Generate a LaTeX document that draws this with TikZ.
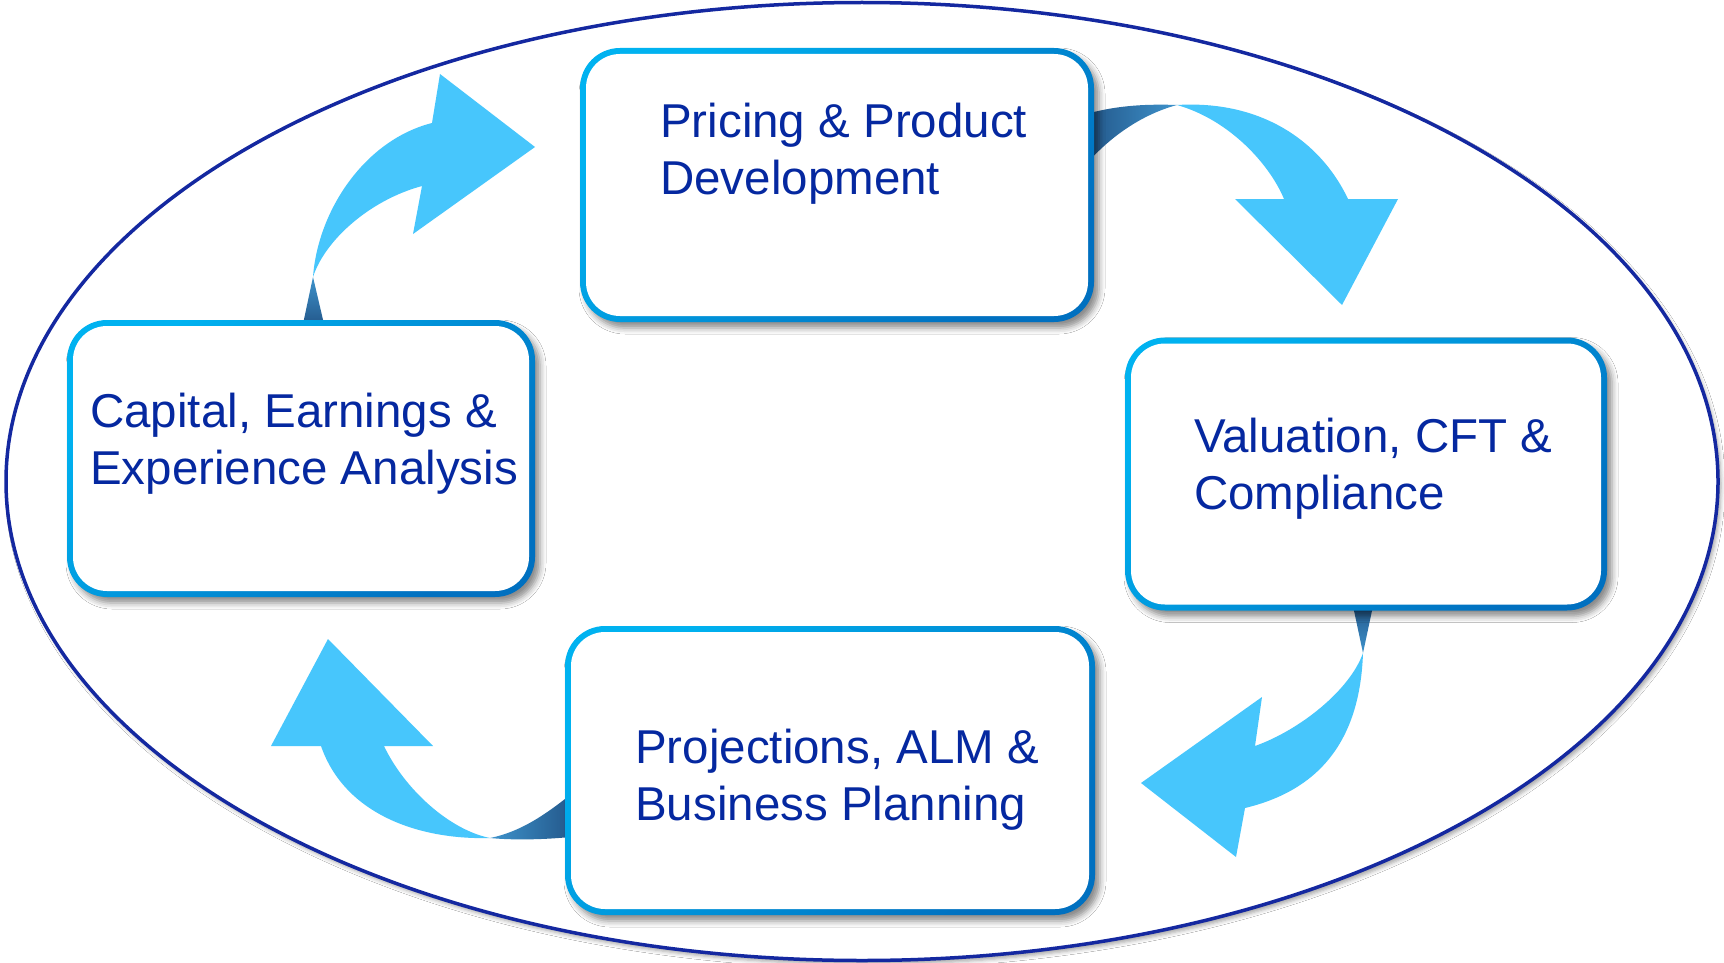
\documentclass[tikz,border=0pt]{standalone}
\usepackage{fontspec}
\setmainfont{Liberation Sans}
\usetikzlibrary{shadows.blur}
\definecolor{navy}{HTML}{1428A0}
\definecolor{txtblue}{HTML}{0528A0}
\definecolor{frameA}{HTML}{00B2F0}
\definecolor{frameB}{HTML}{0070C0}
\definecolor{arrowlight}{HTML}{47C6FC}
\definecolor{twistA}{HTML}{24598C}
\definecolor{twistB}{HTML}{3E93CC}
\begin{document}
\begin{tikzpicture}[x=1pt,y=-1pt,
  boxframe/.style={rectangle, rounded corners=40pt, inner sep=0pt, outer sep=0pt,
    top color=frameA, bottom color=frameB, shading angle=45,
    blur shadow={shadow xshift=5pt, shadow yshift=-6pt, shadow blur radius=6pt, shadow opacity=45}},
  boxinner/.style={rectangle, rounded corners=34pt, fill=white, inner sep=0pt, outer sep=0pt},
  boxtext/.style={anchor=base west, inner sep=0pt, text=txtblue, font=\fontsize{47.5}{57}\selectfont},
  arrowfill/.style={fill=arrowlight}
]
\useasboundingbox (0,0) rectangle (1724,963);
\fill[white] (0,0) rectangle (1724,963);

% outer ellipse
\path[draw=navy, line width=3.5pt, fill=white,
  blur shadow={shadow xshift=3pt, shadow yshift=-4pt, shadow blur radius=4pt, shadow opacity=35}]
  (862,481.5) ellipse [x radius=856, y radius=479];

% arrow 1: Capital -> Pricing
\coordinate (a1t) at (313,277);
\fill[arrowfill] (a1t) .. controls (318,210) and (365,140) .. (432,123) -- (440,74) -- (535,147) -- (413,234) -- (422,186) .. controls (370,200) and (325,240) .. (a1t) -- cycle;
\shade[top color=twistB, bottom color=twistA] (303,324) -- (a1t) -- (324,324) -- cycle;

% arrow 2: Pricing -> Valuation
\coordinate (a2t) at (1177,105);
\shade[left color=twistA, right color=twistB] (1090,113) .. controls (1120,105) and (1150,104) .. (a2t) .. controls (1140,115) and (1110,138) .. (1090,160) -- cycle;
\fill[arrowfill] (a2t) .. controls (1260,100) and (1320,140) .. (1348,199) -- (1398,199) -- (1342,305) -- (1235,199) -- (1284,199) .. controls (1270,165) and (1230,120) .. (a2t) -- cycle;

% arrow 3: Valuation -> Projections
\coordinate (a3t) at (1363,653);
\shade[top color=twistA, bottom color=twistB] (1353,606) -- (1373,606) -- (a3t) -- cycle;
\fill[arrowfill] (a3t) .. controls (1360,740) and (1320,790) .. (1245,808) -- (1236,857) -- (1141,783) -- (1262,697) -- (1255,746) .. controls (1300,730) and (1350,690) .. (a3t) -- cycle;

% arrow 4: Projections -> Capital
\coordinate (a4t) at (490,838);
\fill[arrowfill] (a4t) .. controls (420,840) and (345,815) .. (321,746) -- (271,746) -- (328,639) -- (433,746) -- (384,746) .. controls (405,790) and (450,830) .. (a4t) -- cycle;
\shade[left color=twistB, right color=twistA] (a4t) .. controls (520,832) and (545,815) .. (570,795) -- (570,837) .. controls (540,840) and (510,840) .. (a4t) -- cycle;

% boxes
\node[boxframe, minimum width=514pt, minimum height=274pt] (pricing) at (837,185) {};
\node[boxinner, minimum width=502pt, minimum height=262pt] (pricingIn) at (pricing.center) {};
\node[boxframe, minimum width=482pt, minimum height=273pt] (valuation) at (1366,474) {};
\node[boxinner, minimum width=470pt, minimum height=261pt] (valuationIn) at (valuation.center) {};
\node[boxframe, minimum width=530pt, minimum height=289pt] (projections) at (830,770.5) {};
\node[boxinner, minimum width=518pt, minimum height=277pt] (projectionsIn) at (projections.center) {};
\node[boxframe, minimum width=468pt, minimum height=277pt] (capital) at (301,458.5) {};
\node[boxinner, minimum width=456pt, minimum height=265pt] (capitalIn) at (capital.center) {};

% texts
\node[boxtext] (pricingT) at (660,138) {\begin{tabular}[t]{@{}l@{}}Pricing \& Product\\Development\end{tabular}};
\node[boxtext] (valuationT) at (1194,452) {\begin{tabular}[t]{@{}l@{}}Valuation, CFT \&\\Compliance\end{tabular}};
\node[boxtext] (projectionsT) at (635,763) {\begin{tabular}[t]{@{}l@{}}Projections, ALM \&\\Business Planning\end{tabular}};
\node[boxtext] (capitalT) at (90,427) {\begin{tabular}[t]{@{}l@{}}Capital, Earnings \&\\Experience Analysis\end{tabular}};
\end{tikzpicture}
\end{document}
